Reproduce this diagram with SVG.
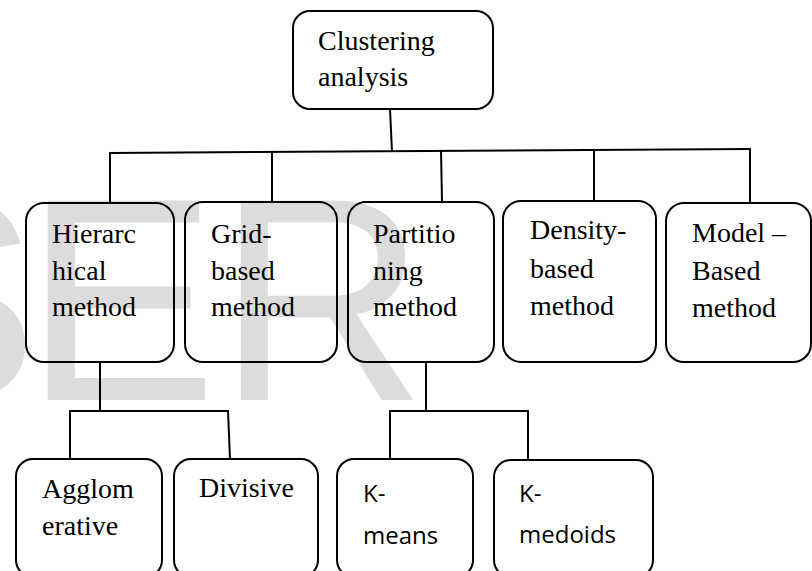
<svg xmlns="http://www.w3.org/2000/svg" width="812" height="571" viewBox="0 0 812 571">
<style>
.box{fill:none;stroke:#000;stroke-width:2}
.ln{stroke:#000;stroke-width:2;fill:none}
.t{font-family:"Liberation Serif","Times New Roman",serif;font-size:28px;fill:#000}
.s{font-family:"Open Sans","Liberation Sans",sans-serif;font-size:24px;fill:#000}
.wm{font-family:"Liberation Sans",Arial,sans-serif;font-size:290px;fill:#dcdcdc}
</style>
<rect width="812" height="571" fill="#fff"/>
<g id="watermark">
<text class="wm" x="-155" y="400">S</text>
<text class="wm" x="24" y="400">E</text>
<text class="wm" x="217" y="400">R</text>
</g>
<g id="connectors">
<line class="ln" x1="390" y1="109" x2="392" y2="152"/>
<line class="ln" x1="109" y1="153" x2="751" y2="149"/>
<line class="ln" x1="110" y1="153" x2="110" y2="203"/>
<line class="ln" x1="272" y1="152" x2="272" y2="202"/>
<line class="ln" x1="441" y1="150" x2="442" y2="202"/>
<line class="ln" x1="594" y1="150" x2="594" y2="201"/>
<line class="ln" x1="750" y1="149" x2="750" y2="202"/>
<line class="ln" x1="100" y1="362" x2="100" y2="411"/>
<line class="ln" x1="69" y1="411" x2="229" y2="411"/>
<line class="ln" x1="70" y1="411" x2="70" y2="459"/>
<line class="ln" x1="228" y1="411" x2="230" y2="459"/>
<line class="ln" x1="426" y1="362" x2="426" y2="411"/>
<line class="ln" x1="389" y1="411" x2="529" y2="411"/>
<line class="ln" x1="390" y1="411" x2="390" y2="459"/>
<line class="ln" x1="528" y1="411" x2="528" y2="459"/>
</g>
<g id="clustering">
<rect class="box" x="293" y="11" width="200" height="98" rx="17"/>
<text class="t" x="318" y="50">Clustering</text>
<text class="t" x="318" y="86">analysis</text>
</g>
<g id="hierarchical">
<rect class="box" x="26" y="203" width="148" height="159" rx="18"/>
<text class="t" x="52" y="243">Hierarc</text>
<text class="t" x="52" y="280">hical</text>
<text class="t" x="52" y="316">method</text>
</g>
<g id="grid">
<rect class="box" x="185" y="202" width="152" height="160" rx="18"/>
<text class="t" x="211" y="243">Grid-</text>
<text class="t" x="211" y="280">based</text>
<text class="t" x="211" y="316">method</text>
</g>
<g id="partitioning">
<rect class="box" x="348" y="202" width="146" height="160" rx="18"/>
<text class="t" x="373" y="243">Partitio</text>
<text class="t" x="373" y="280">ning</text>
<text class="t" x="373" y="316">method</text>
</g>
<g id="density">
<rect class="box" x="503" y="201" width="153" height="161" rx="18"/>
<text class="t" x="530" y="239">Density-</text>
<text class="t" x="530" y="278">based</text>
<text class="t" x="530" y="315">method</text>
</g>
<g id="model">
<rect class="box" x="666" y="203" width="145" height="159" rx="18"/>
<text class="t" x="692" y="242">Model –</text>
<text class="t" x="692" y="280">Based</text>
<text class="t" x="692" y="317">method</text>
</g>
<g id="agglomerative">
<rect class="box" x="16" y="459" width="146" height="118" rx="17"/>
<text class="t" x="42" y="498">Agglom</text>
<text class="t" x="42" y="535">erative</text>
</g>
<g id="divisive">
<rect class="box" x="174" y="459" width="144" height="118" rx="17"/>
<text class="t" x="199" y="497">Divisive</text>
</g>
<g id="kmeans">
<rect class="box" x="337" y="459" width="136" height="118" rx="17"/>
<text class="s" x="363" y="502">K-</text>
<text class="s" x="363" y="544">means</text>
</g>
<g id="kmedoids">
<rect class="box" x="494" y="460" width="159" height="117" rx="17"/>
<text class="s" x="519" y="502">K-</text>
<text class="s" x="519" y="543">medoids</text>
</g>
</svg>
